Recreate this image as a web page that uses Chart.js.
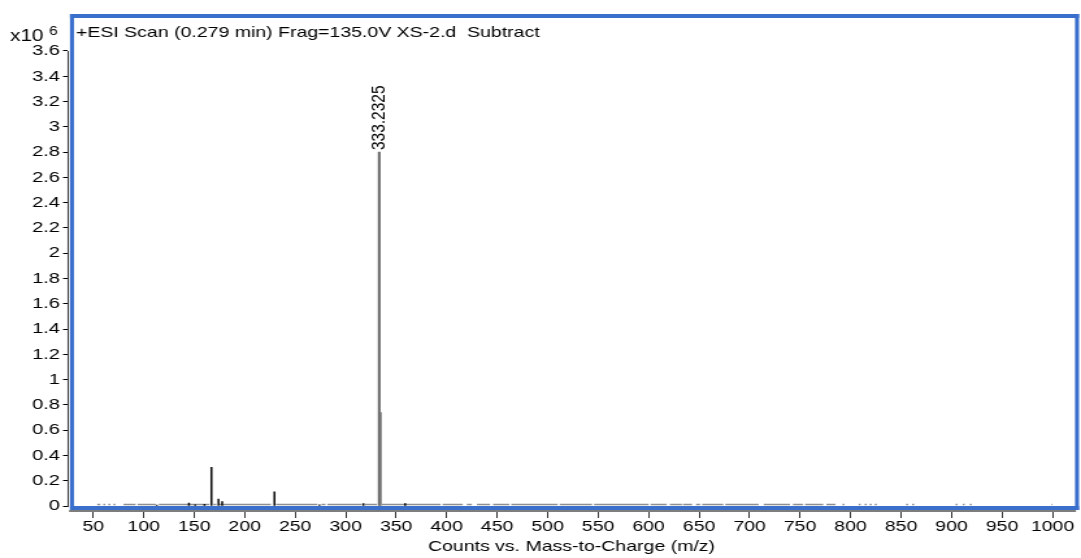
<!DOCTYPE html>
<html>
<head>
<meta charset="utf-8">
<script src="https://cdn.jsdelivr.net/npm/chart.js@4.4.0/dist/chart.umd.min.js"></script>
<style>
  html, body { margin: 0; padding: 0; background: #fff; }
  #spectrum { display: block; transform-origin: 0 0; }
</style>
</head>
<body>
<canvas id="spectrum" width="832" height="558"></canvas>
<script>
const scanTitle = '+ESI Scan (0.279 min) Frag=135.0V XS-2.d  Subtract';
const xTitle = 'Counts vs. Mass-to-Charge (m/z)';

// counts in units of 10^6
const majorMz = [333.2325, 334.24];
const majorCounts = [2.80, 0.74];

const minorMz = [113.0, 144.8, 151.0, 160.2, 167.1, 174.1, 177.7, 229.5, 274.0, 317.6, 358.9];
const minorCounts = [0.008, 0.024, 0.010, 0.014, 0.305, 0.055, 0.034, 0.113, 0.010, 0.020, 0.020];

// stretches of m/z where the baseline noise shows up
const noiseFrom = [54, 60, 65, 70, 80, 94, 115, 169, 175, 231, 276, 282, 319, 336, 396, 420, 430, 446, 464, 512, 546,
  602, 621, 634, 647, 653, 676, 714, 743, 755, 776, 792, 808, 814, 819, 824, 855, 861, 904, 911, 918, 999];
const noiseTo = [57, 62, 67, 72, 92, 112, 165, 172, 226, 272, 280, 316, 331, 394, 416, 425, 443, 462, 510, 544, 600,
  618, 633, 643, 651, 674, 709, 740, 753, 773, 785, 794, 810, 816, 821, 826, 857, 863, 906, 913, 920, 1000];
const noiseLevel = 0.012;

const xTicks = [50, 100, 150, 200, 250, 300, 350, 400, 450, 500, 550, 600, 650, 700, 750, 800, 850, 900, 950, 1000];
const yTicks = [0, 0.2, 0.4, 0.6, 0.8, 1, 1.2, 1.4, 1.6, 1.8, 2, 2.2, 2.4, 2.6, 2.8, 3, 3.2, 3.4, 3.6];

// the canvas is drawn narrow and stretched sideways to the page width
const PAGE_W = 1081;
const canvas = document.getElementById('spectrum');
const SX = PAGE_W / canvas.width;
const px = v => v / SX;
canvas.style.transform = `scaleX(${SX})`;

const family = "'Liberation Sans', Arial, sans-serif";
const frameBlue = '#3a6fcc';

const noiseData = [];
noiseFrom.forEach((a, i) => {
    noiseData.push({x: a, y: noiseLevel}, {x: noiseTo[i], y: noiseLevel}, {x: noiseTo[i] + 0.01, y: null});
});

const spectrumDecor = {
    id: 'spectrumDecor',
    afterDatasetsDraw(chart) {
        const {ctx, scales: {x, y}} = chart;
        // m/z label over the base peak
        const bx = x.getPixelForValue(majorMz[0]);
        const by = y.getPixelForValue(majorCounts[0]);
        ctx.save();
        ctx.translate(bx, by - 2);
        ctx.rotate(-Math.PI / 2);
        ctx.font = `15.5px ${family}`;
        ctx.fillStyle = '#000';
        ctx.textAlign = 'left';
        ctx.textBaseline = 'middle';
        ctx.fillText(majorMz[0].toFixed(4), 0, 0);
        ctx.restore();
    },
    afterDraw(chart) {
        const {ctx, scales: {y}} = chart;
        ctx.save();
        // y axis line from top tick to zero
        const yTop = y.getPixelForValue(yTicks[yTicks.length - 1]);
        const y0 = y.getPixelForValue(0);
        ctx.fillStyle = '#000';
        ctx.fillRect(px(67.5), yTop, px(1), y0 - yTop + 1);
        // grey rule under the frame
        ctx.fillStyle = '#7d7d7d';
        ctx.fillRect(px(69), 510, px(1076 - 69), 2);
        // blue frame
        ctx.fillStyle = frameBlue;
        ctx.fillRect(px(70), 14, px(1079 - 70), 4);
        ctx.fillRect(px(70), 506, px(1079 - 70), 4);
        ctx.fillRect(px(70), 14, px(4), 496);
        ctx.fillRect(px(1075), 14, px(4), 496);
        // header
        ctx.fillStyle = '#000';
        ctx.textBaseline = 'alphabetic';
        ctx.textAlign = 'left';
        ctx.font = `15px ${family}`;
        ctx.fillText(scanTitle, px(76), 37);
        ctx.font = `16px ${family}`;
        ctx.fillText('x10', px(10), 41);
        ctx.font = `12px ${family}`;
        ctx.fillText('6', px(49), 35);
        ctx.restore();
    }
};

new Chart(canvas, {
    type: 'bar',
    data: {
        datasets: [
            {
                type: 'bar',
                label: 'major',
                data: majorMz.map((m, i) => ({x: m, y: majorCounts[i]})),
                backgroundColor: '#707070',
                barThickness: 1.5,
                grouped: false,
                order: 1
            },
            {
                type: 'bar',
                label: 'minor',
                data: minorMz.map((m, i) => ({x: m, y: minorCounts[i]})),
                backgroundColor: '#111',
                barThickness: 0.9,
                grouped: false,
                order: 2
            },
            {
                type: 'line',
                label: 'noise',
                data: noiseData,
                borderColor: '#8f8f8f',
                borderWidth: 1.3,
                pointRadius: 0,
                spanGaps: false,
                order: 3
            }
        ]
    },
    options: {
        responsive: false,
        devicePixelRatio: 1,
        animation: false,
        events: [],
        layout: {padding: {top: 18, right: canvas.width - px(1075), left: 0, bottom: 0}},
        plugins: {legend: {display: false}, tooltip: {enabled: false}},
        scales: {
            x: {
                type: 'linear',
                min: 25.04,
                max: 1022.28,
                offset: false,
                afterBuildTicks: s => { s.ticks = xTicks.map(v => ({value: v})); },
                afterFit: s => { s.height = 52; },
                grid: {drawOnChartArea: false, drawTicks: true, tickLength: 12, color: '#333', offset: false},
                border: {display: false},
                ticks: {
                    color: '#000', font: {family, size: 15}, padding: 0,
                    maxRotation: 0, minRotation: 0, autoSkip: false,
                    callback: v => String(v)
                },
                title: {display: true, text: xTitle, color: '#000', font: {family, size: 15}, padding: {top: 0, bottom: 2}}
            },
            y: {
                min: 0,
                max: 3.861,
                afterBuildTicks: s => { s.ticks = yTicks.map(v => ({value: v})); },
                afterFit: s => { s.width = px(68); },
                grid: {drawOnChartArea: false, drawTicks: true, tickLength: px(5), color: '#000'},
                border: {display: false},
                ticks: {
                    color: '#000', font: {family, size: 15.5}, padding: px(3),
                    callback: v => String(Number(v.toFixed(1)))
                }
            }
        }
    },
    plugins: [spectrumDecor]
});
</script>
</body>
</html>
